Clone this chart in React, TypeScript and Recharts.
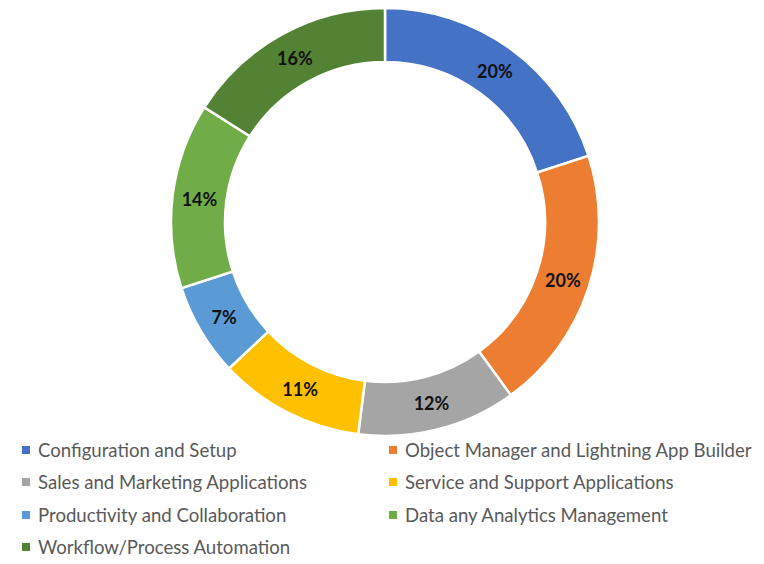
import React from 'react';
import { PieChart, Pie, Cell, Legend } from 'recharts';

const categories = [
  'Configuration and Setup',
  'Object Manager and Lightning App Builder',
  'Sales and Marketing Applications',
  'Service and Support Applications',
  'Productivity and Collaboration',
  'Data any Analytics Management',
  'Workflow/Process Automation',
];
const values = [20, 20, 12, 11, 7, 14, 16];
const colors = ['#4472C4', '#ED7D31', '#A5A5A5', '#FFC000', '#5B9BD5', '#70AD47', '#548235'];

const data = categories.map((name, i) => ({ name, value: values[i] }));

const RADIAN = Math.PI / 180;

const renderLabel = (props: any) => {
  const { cx, cy, midAngle, innerRadius, outerRadius, value } = props;
  const r = (innerRadius + outerRadius) / 2;
  const x = cx + r * Math.cos(-midAngle * RADIAN);
  const y = cy + r * Math.sin(-midAngle * RADIAN);
  return (
    <text
      x={x}
      y={y}
      textAnchor="middle"
      dominantBaseline="central"
      fill="#111111"
      style={{ fontFamily: 'Lato, sans-serif', fontWeight: 700, fontSize: 18 }}
    >
      {value}%
    </text>
  );
};

const renderLegend = () => {
  return (
    <div style={{ position: 'relative', width: 764, height: 123 }}>
      {categories.map((name, i) => {
        const col = i % 2;
        const row = Math.floor(i / 2);
        const left = col === 0 ? 22 : 389;
        const top = row * 32.3;
        return (
          <div
            key={name}
            style={{
              position: 'absolute',
              left,
              top,
              height: 22,
              display: 'flex',
              alignItems: 'center',
              whiteSpace: 'nowrap',
            }}
          >
            <span
              style={{
                display: 'inline-block',
                width: 8,
                height: 8,
                background: colors[i],
                marginRight: 8,
              }}
            />
            <span
              style={{
                fontFamily: 'Lato, sans-serif',
                fontSize: 18.6,
                color: '#595959',
              }}
            >
              {name}
            </span>
          </div>
        );
      })}
    </div>
  );
};

export default function App() {
  return (
    <div style={{ position: 'absolute', left: 0, top: 0, width: 764, height: 564, background: '#fff' }}>
      <PieChart width={764} height={564} margin={{ top: 0, right: 0, bottom: 0, left: 0 }}>
        <Pie
          data={data}
          dataKey="value"
          nameKey="name"
          cx={385}
          cy={222}
          innerRadius={160}
          outerRadius={214}
          startAngle={90}
          endAngle={-270}
          stroke="#ffffff"
          strokeWidth={2.5}
          label={renderLabel}
          labelLine={false}
          isAnimationActive={false}
        >
          {data.map((d, i) => (
            <Cell key={d.name} fill={colors[i]} />
          ))}
        </Pie>
        <Legend
          content={renderLegend}
          layout="horizontal"
          verticalAlign="bottom"
          align="left"
          wrapperStyle={{ position: 'absolute', left: 0, top: 439, width: 764, height: 123 }}
        />
      </PieChart>
    </div>
  );
}
